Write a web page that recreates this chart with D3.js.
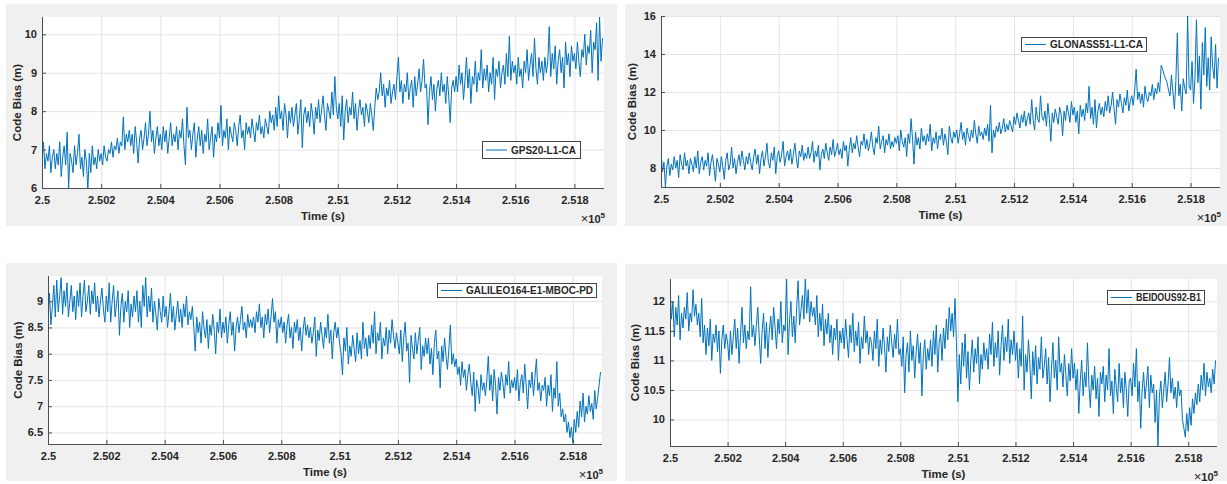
<!DOCTYPE html>
<html>
<head>
<meta charset="utf-8">
<script src="https://cdn.jsdelivr.net/npm/d3@7"></script>
<style>
body { margin: 0; background: #fff; }
text { font-family: "Liberation Sans", Arial, sans-serif; font-weight: bold; fill: #262626; }
</style>
</head>
<body>
<script>
// time axis: one reading every 5 s starting at 250000 s
var t0 = 250000, dt = 5;
var xTickValues = [250000, 250200, 250400, 250600, 250800, 251000, 251200, 251400, 251600, 251800];
var xTickLabels = ["2.5", "2.502", "2.504", "2.506", "2.508", "2.51", "2.512", "2.514", "2.516", "2.518"];

// code bias (m), 20 readings per 100 s
var gps20 = [
  6.6,7.2,6.5,6.9,6.7,7.1,6.4,6.8,7.0,6.5,6.9,6.6,7.2,6.3,6.8,7.1,6.6,7.45,6.0,6.9,
  6.7,6.4,7.1,6.6,6.9,7.4,6.5,6.8,6.3,7.0,6.7,5.95,6.9,6.4,7.1,6.6,6.8,6.5,7.0,6.7,
  6.9,6.6,7.1,6.8,6.7,7.0,6.9,7.2,6.8,7.1,7.0,7.3,6.9,7.2,7.1,7.85,7.0,7.4,7.2,7.5,
  7.1,7.4,6.9,7.6,7.2,6.65,7.3,7.5,7.0,7.3,7.7,7.1,7.4,8.0,7.2,7.5,6.9,7.3,7.6,7.1,
  7.4,7.0,7.6,7.2,7.5,6.9,7.3,7.7,7.1,7.4,7.2,7.6,7.0,7.5,7.3,7.8,7.1,6.6,8.1,7.3,
  7.5,7.0,7.4,7.7,6.8,7.3,7.6,7.1,7.5,6.9,7.4,7.2,7.8,7.0,7.3,7.6,6.8,7.4,7.2,7.7,
  7.3,8.15,7.1,7.5,7.3,7.8,7.0,7.6,7.4,7.2,7.7,7.5,7.1,7.6,7.9,7.3,7.5,7.0,7.7,7.4,
  7.6,7.3,7.8,7.5,7.2,7.7,7.5,7.9,7.4,7.6,7.3,7.8,7.6,7.4,8.0,7.7,7.9,7.5,8.1,7.6,
  8.4,7.8,8.0,7.5,8.2,7.9,7.3,8.0,7.7,8.1,7.6,7.9,8.2,7.4,7.8,8.3,7.05,7.9,8.1,7.7,
  8.0,7.6,8.2,7.9,7.4,8.1,7.8,8.3,7.7,8.0,8.4,7.9,7.5,8.2,8.0,7.8,8.5,7.9,8.9,8.1,
  7.8,8.2,7.6,8.4,7.25,8.0,8.3,7.7,8.1,7.9,8.5,7.8,8.2,7.5,8.0,8.3,7.9,8.1,7.6,8.2,
  8.0,7.7,8.2,7.9,7.5,8.1,8.6,8.3,8.5,9.0,8.4,8.7,8.1,8.6,8.4,8.8,8.2,8.5,8.7,8.3,
  8.9,9.4,8.5,8.8,8.2,8.7,8.5,9.0,8.3,8.6,8.8,8.1,8.9,8.4,8.7,9.1,8.5,8.8,9.35,8.6,
  8.7,7.65,8.5,8.9,8.3,8.7,8.0,8.6,8.8,8.4,9.0,8.5,8.7,8.2,8.9,8.4,7.7,8.6,8.8,8.5,
  8.9,8.5,9.2,8.7,9.0,8.3,8.8,9.4,8.6,9.1,8.2,8.9,8.7,9.3,8.5,9.0,8.8,9.6,8.6,9.1,
  8.8,9.2,8.5,9.0,8.7,9.4,8.3,9.1,8.9,9.3,8.6,9.0,9.2,8.7,9.5,8.9,9.95,8.8,9.3,9.0,
  9.2,8.7,9.4,8.9,9.1,8.6,9.3,9.0,9.6,8.8,9.2,9.5,8.9,9.9,9.1,8.7,9.4,9.0,9.3,8.8,
  9.4,9.0,9.3,10.2,8.9,9.5,9.1,9.7,8.7,9.3,9.6,9.0,9.4,8.6,9.8,9.2,9.5,8.9,9.7,9.3,
  9.5,9.1,9.8,9.3,8.9,9.6,9.4,10.0,9.2,9.7,9.5,10.1,9.0,9.8,9.6,10.3,8.8,10.45,9.3,9.9
];

var glonass51 = [
  8.9,7.8,8.3,7.0,8.1,8.5,7.6,8.2,7.9,8.6,8.0,8.4,7.5,8.7,8.2,7.9,8.8,8.1,8.4,7.7,
  8.5,8.2,7.8,8.6,8.0,8.9,7.7,8.3,8.6,7.9,8.4,8.1,8.8,7.6,8.3,8.7,8.0,7.3,8.5,8.2,
  7.8,8.6,8.1,7.4,8.4,8.8,7.9,8.2,9.1,8.0,8.5,7.7,8.3,8.7,8.1,8.9,8.4,7.9,8.6,8.2,
  8.8,8.3,7.9,8.6,9.0,8.2,8.7,7.7,8.5,8.9,8.1,8.6,9.3,8.3,8.0,8.8,8.4,9.1,7.7,8.6,
  8.9,8.3,8.7,9.4,8.1,8.6,8.9,8.4,9.0,8.2,8.7,9.3,8.5,8.0,8.9,8.6,9.2,8.4,8.8,8.5,
  9.1,8.5,8.8,9.4,8.3,8.9,8.6,9.2,7.9,8.7,9.0,8.5,9.3,8.8,8.4,9.1,8.7,9.5,8.6,8.9,
  9.3,8.7,9.0,8.5,9.4,8.9,9.2,8.1,9.0,9.6,8.8,9.3,9.0,9.7,9.1,8.6,9.4,9.2,9.8,9.0,
  9.5,8.9,9.3,9.9,9.1,8.7,9.6,9.3,10.2,9.0,9.4,9.7,8.8,9.5,9.2,9.8,9.0,9.4,9.1,9.6,
  9.3,9.7,8.9,10.0,9.4,9.1,9.6,8.6,9.8,9.3,10.6,9.5,8.2,9.9,9.2,9.6,9.0,10.1,9.4,9.7,
  9.2,9.8,9.4,10.3,8.9,9.6,9.3,9.9,9.0,9.7,9.5,10.1,9.2,9.8,9.4,8.7,10.2,9.6,9.3,9.9,
  9.6,10.0,9.3,9.8,10.4,9.5,9.9,9.2,10.1,9.7,9.4,10.0,9.6,10.5,9.8,9.3,10.2,9.7,9.9,9.5,
  10.1,9.7,10.3,9.4,11.3,8.8,10.0,9.6,10.2,9.9,10.4,9.8,10.1,10.6,9.9,10.3,10.0,10.5,10.2,9.9,
  10.7,10.3,10.9,10.5,10.1,10.8,10.4,11.0,10.2,10.6,10.9,10.3,11.6,10.5,10.0,11.2,10.6,10.4,11.8,10.7,
  10.5,11.0,10.2,11.4,10.6,9.4,10.9,10.4,11.1,10.7,10.3,11.2,10.8,9.7,11.0,10.5,11.3,10.9,10.4,11.5,
  10.8,11.2,10.4,11.0,9.8,11.3,10.7,11.1,10.5,11.4,10.9,12.3,10.6,11.2,10.3,11.6,10.1,11.0,11.4,10.8,
  11.2,10.7,11.5,11.0,11.8,10.9,11.3,12.0,11.1,10.3,11.6,11.2,11.9,11.4,10.9,11.7,11.3,12.1,11.0,11.5,
  11.8,11.3,12.1,13.2,11.6,12.0,11.4,11.9,11.2,12.3,11.7,11.5,12.0,11.8,12.4,11.6,12.2,11.9,12.5,12.0,
  13.4,13.2,12.9,12.7,12.5,12.1,11.8,12.9,12.0,11.1,12.6,15.1,11.8,12.4,11.0,12.7,12.2,11.9,16.0,12.3,
  12.1,13.6,11.4,12.8,15.8,12.5,13.9,11.1,14.6,12.9,15.4,12.3,13.8,12.1,14.9,13.3,12.7,14.5,12.2,13.8
];

var galileo164 = [
  8.6,9.15,8.55,8.9,9.3,8.7,9.4,8.8,9.1,9.45,8.75,9.2,8.9,9.35,8.7,9.0,9.3,8.8,9.1,8.65,
  9.2,8.9,9.35,8.7,9.1,9.4,8.8,9.0,9.3,8.75,9.2,8.95,9.35,8.8,9.1,8.7,9.0,9.25,8.85,8.6,
  9.1,8.8,9.35,8.6,9.0,9.3,8.7,8.95,9.2,8.35,8.9,9.15,8.6,9.0,8.8,9.2,8.5,8.95,8.7,9.1,
  8.8,9.2,8.6,9.0,8.5,9.3,8.9,9.45,8.7,9.1,8.8,9.25,8.6,9.0,8.75,8.45,9.05,8.8,8.6,9.1,
  8.7,8.9,8.5,8.8,9.15,8.6,8.9,8.45,8.75,9.0,8.6,8.85,8.5,8.95,8.7,9.1,8.55,8.8,8.65,8.9,
  8.5,8.05,8.7,8.4,8.6,8.2,8.8,8.5,8.3,8.65,8.1,8.55,8.35,8.75,8.45,8.0,8.6,8.4,8.85,8.3,
  8.6,8.4,8.7,8.2,8.55,8.8,8.35,8.6,8.05,8.5,8.7,8.4,8.65,8.9,8.45,8.6,8.3,8.75,8.5,8.65,
  8.5,8.7,8.4,8.8,8.6,8.95,8.5,8.7,8.3,8.75,8.55,8.85,8.4,8.7,9.05,8.6,8.8,8.2,8.65,8.5,
  8.7,8.4,8.6,8.2,8.55,8.75,8.3,8.5,8.1,8.6,8.4,8.65,8.25,8.5,8.05,8.45,8.7,8.35,8.55,8.3,
  8.5,8.2,8.4,8.7,7.95,8.45,8.25,8.6,8.35,8.1,8.5,8.3,8.75,8.2,8.45,7.9,8.4,8.6,8.3,8.5,
  8.2,8.0,7.6,8.3,8.05,8.5,7.8,8.15,7.95,8.35,8.1,7.85,8.4,8.0,8.25,7.9,8.6,8.1,8.3,7.95,
  8.35,8.1,8.55,8.2,8.8,8.0,8.4,8.25,8.6,7.9,8.3,8.15,8.5,8.0,8.45,8.2,8.65,8.35,8.1,8.4,
  8.2,8.0,8.45,7.85,8.3,8.6,8.05,8.2,7.45,8.35,8.1,7.9,8.4,8.0,8.25,8.5,7.7,8.15,7.95,8.3,
  8.0,8.3,7.8,8.1,7.6,8.2,8.45,7.9,8.05,7.35,8.15,7.85,8.3,7.95,7.7,8.1,8.55,7.8,8.0,7.75,
  7.9,7.6,7.75,7.4,7.85,7.55,7.7,7.3,7.6,7.8,7.45,7.2,7.65,6.9,7.5,7.35,7.05,7.6,7.3,7.45,
  7.2,7.5,7.95,7.3,7.6,7.1,7.7,7.4,6.85,7.55,7.3,7.65,7.45,7.15,7.6,7.4,7.85,7.25,7.5,7.35,
  7.55,7.3,7.7,7.1,7.45,7.6,7.25,7.8,7.4,6.95,7.5,7.35,7.65,7.2,7.55,7.9,7.3,7.45,7.1,7.4,
  7.3,7.55,7.0,7.4,7.2,7.6,6.9,7.35,7.15,7.85,7.0,7.25,6.8,6.95,6.7,6.85,6.5,6.7,6.4,6.6,
  6.3,6.75,6.5,6.9,6.6,7.1,6.8,7.25,6.7,7.0,6.85,7.2,6.9,7.05,6.75,7.3,6.95,7.15,7.4,7.65
];

var beidou92 = [
  12.3,11.7,12.0,11.4,11.9,11.6,12.1,11.35,11.8,11.55,11.9,11.7,12.15,11.5,11.8,11.65,12.2,11.75,11.95,11.6,
  11.8,11.4,12.05,11.3,11.6,11.1,11.55,11.25,11.7,11.0,11.45,11.3,11.6,11.15,11.5,10.78,11.35,11.6,11.2,11.45,
  11.3,11.0,11.5,11.1,11.4,11.7,11.2,11.55,10.95,11.45,11.9,11.3,11.6,11.2,11.5,11.35,12.25,11.4,11.6,11.25,
  11.6,11.9,11.4,10.95,11.5,11.8,11.2,11.65,11.05,11.5,11.75,11.35,11.9,11.55,11.2,11.7,11.45,12.0,11.3,11.6,
  11.5,12.38,11.1,11.65,12.0,11.4,11.75,11.3,11.9,12.35,11.6,11.85,12.1,11.7,12.4,11.8,12.2,11.65,12.0,11.75,
  11.9,11.6,12.1,11.4,11.8,11.5,11.95,11.25,11.7,11.45,11.8,11.3,11.6,11.1,11.55,11.35,11.7,11.0,11.5,11.3,
  11.55,11.2,11.7,11.35,11.05,11.6,11.3,11.8,11.15,11.5,11.25,11.65,10.95,11.4,11.2,11.75,11.3,11.5,11.1,11.4,
  11.3,11.0,11.5,11.2,11.7,10.9,11.35,11.1,11.55,11.25,10.8,11.4,11.15,11.6,11.3,11.05,11.45,11.2,11.7,11.1,
  11.2,10.9,11.4,10.45,11.1,11.3,10.8,11.5,11.0,11.25,10.7,11.15,11.45,10.95,11.3,10.4,11.1,11.35,10.85,11.2,
  11.0,11.35,10.9,11.5,11.1,11.6,10.8,11.3,11.45,11.0,11.55,11.2,11.7,11.35,11.9,11.5,11.8,11.4,12.05,11.3,
  10.3,11.1,10.6,11.3,10.9,11.45,10.7,11.15,10.5,11.0,11.35,10.8,11.2,10.95,11.4,10.6,11.1,10.85,11.3,11.0,
  11.2,10.85,11.45,11.1,11.65,10.9,11.3,11.05,11.5,10.75,11.25,11.6,11.0,11.4,11.15,11.7,10.95,11.35,11.1,11.5,
  11.0,11.3,10.7,11.2,10.9,11.75,10.5,11.1,10.8,11.35,10.95,10.35,11.15,10.75,11.25,10.6,11.05,10.85,11.4,10.7,
  10.9,11.2,10.6,11.05,10.3,10.85,11.3,10.7,11.0,10.5,11.4,10.8,10.95,10.55,11.1,10.75,10.4,10.95,10.65,11.2,
  10.7,10.95,10.5,10.85,10.1,10.65,11.0,10.4,10.8,10.55,11.3,10.6,10.2,10.75,10.5,10.9,10.35,10.7,10.05,10.8,
  10.6,10.9,10.3,10.75,10.5,11.2,10.4,10.65,10.1,10.85,10.55,10.3,10.95,10.45,10.7,10.2,10.8,10.5,10.05,10.65,
  10.7,10.4,10.95,10.55,11.2,10.3,10.65,9.85,10.5,10.8,10.35,10.6,10.9,10.2,10.75,10.45,10.6,9.95,10.5,9.55,
  10.4,10.65,10.2,10.5,10.8,10.3,10.6,11.05,10.45,10.7,10.35,10.55,10.2,10.65,10.4,10.5,10.0,9.85,9.7,10.1,
  9.8,10.2,9.9,10.35,10.1,10.45,10.25,10.6,10.3,10.75,10.5,10.95,10.4,10.8,10.55,10.7,10.45,10.85,10.6,11.0
];

var seriesNames = ["GPS20-L1-CA", "GLONASS51-L1-CA", "GALILEO164-E1-MBOC-PD", "BEIDOUS92-B1"];

// panel layout (figure box, axes box, y range, legend box)
var panels = [
  { name: seriesNames[0], values: gps20, bg: [6, 4, 611, 222], box: [42, 17, 604, 188],
    yDomain: [6, 10.45], yTicks: [6, 7, 8, 9, 10], ylabelX: 17, legend: [482, 141, 98, 17] },
  { name: seriesNames[1], values: glonass51, bg: [625, 4, 602, 222], box: [661, 16, 1220, 187],
    yDomain: [7, 16], yTicks: [8, 10, 12, 14, 16], ylabelX: 632, legend: [1021, 37, 125, 14] },
  { name: seriesNames[2], values: galileo164, bg: [6, 263, 611, 218], box: [48, 276, 602, 444],
    yDomain: [6.28, 9.48], yTicks: [6.5, 7, 7.5, 8, 8.5, 9], ylabelX: 18, legend: [437, 283, 159, 14] },
  { name: seriesNames[3], values: beidou92, bg: [625, 264, 602, 217], box: [670, 279, 1217, 446],
    yDomain: [9.55, 12.38], yTicks: [10, 10.5, 11, 11.5, 12], ylabelX: 635, legend: [1107, 290, 97, 14] }
];

var svg = d3.select("body").append("svg")
    .attr("width", 1227)
    .attr("height", 484);

panels.forEach(function(p, i) {
  var left = p.box[0], top = p.box[1], right = p.box[2], bottom = p.box[3];
  var width = right - left, height = bottom - top;

  // figure background
  svg.append("rect")
      .attr("x", p.bg[0]).attr("y", p.bg[1])
      .attr("width", p.bg[2]).attr("height", p.bg[3])
      .attr("fill", "#f0f0f0");

  var g = svg.append("g")
      .attr("transform", "translate(" + left + "," + top + ")");

  g.append("rect")
      .attr("width", width).attr("height", height)
      .attr("fill", "#fff");

  var x = d3.scaleLinear().domain([250000, 251900]).range([0, width]);
  var y = d3.scaleLinear().domain(p.yDomain).range([height, 0]);

  // grid lines
  g.append("g")
      .attr("class", "grid")
      .call(d3.axisBottom(x).tickValues(xTickValues).tickSize(height).tickFormat(""));
  g.append("g")
      .attr("class", "grid")
      .call(d3.axisLeft(y).tickValues(p.yTicks).tickSize(-width).tickFormat(""));
  g.selectAll(".grid .domain").remove();
  g.selectAll(".grid line").attr("stroke", "#e3e3e3").attr("stroke-width", 1);

  // the series
  svg.append("clipPath").attr("id", "clip" + i)
    .append("rect").attr("width", width).attr("height", height);

  var line = d3.line()
      .x(function(d, k) { return x(t0 + k * dt); })
      .y(function(d) { return y(d); });

  g.append("path")
      .datum(p.values)
      .attr("clip-path", "url(#clip" + i + ")")
      .attr("fill", "none")
      .attr("stroke", "#0072bd")
      .attr("stroke-width", 1)
      .attr("stroke-linejoin", "round")
      .attr("d", line);

  // axes
  var xAxis = g.append("g")
      .attr("transform", "translate(0," + height + ")")
      .call(d3.axisBottom(x).tickValues(xTickValues)
        .tickFormat(function(d, k) { return xTickLabels[k]; })
        .tickSize(-4).tickPadding(8));
  var yAxis = g.append("g")
      .call(d3.axisLeft(y).tickValues(p.yTicks).tickFormat(d3.format("")).tickSize(-4).tickPadding(5));
  [xAxis, yAxis].forEach(function(a) {
    a.select(".domain").attr("stroke", "#4d4d4d").attr("stroke-width", 1);
    a.selectAll(".tick line").attr("stroke", "#4d4d4d");
    a.selectAll(".tick text").style("font-size", "11px").attr("fill", "#262626");
  });
  // only the left and bottom edges: trim the outer ticks of the domain path
  xAxis.select(".domain").attr("d", "M0,0.5H" + width);
  yAxis.select(".domain").attr("d", "M0.5,0V" + height);

  // axis titles
  g.append("text")
      .attr("x", width / 2)
      .attr("y", height + 32)
      .attr("text-anchor", "middle")
      .style("font-size", "11.5px")
      .text("Time (s)");

  svg.append("text")
      .attr("transform", "translate(" + p.ylabelX + "," + (top + height / 2) + ") rotate(-90)")
      .attr("text-anchor", "middle")
      .attr("dominant-baseline", "central")
      .style("font-size", "11.5px")
      .text("Code Bias (m)");

  // x10^5 multiplier
  var mult = g.append("text")
      .attr("x", width + 1)
      .attr("y", height + 35)
      .attr("text-anchor", "end")
      .style("font-size", "11px");
  mult.append("tspan").style("font-weight", "normal").style("font-size", "13px").text("\u00d7");
  mult.append("tspan").text("10");
  mult.append("tspan").attr("dy", -5).style("font-size", "8px").text("5");

  // legend
  var lg = svg.append("g")
      .attr("transform", "translate(" + p.legend[0] + "," + p.legend[1] + ")");
  lg.append("rect")
      .attr("x", 0.5).attr("y", 0.5)
      .attr("width", p.legend[2]).attr("height", p.legend[3])
      .attr("fill", "#fff")
      .attr("stroke", "#444")
      .attr("stroke-width", 1);
  lg.append("line")
      .attr("x1", 4).attr("x2", 25)
      .attr("y1", p.legend[3] / 2 + 0.5).attr("y2", p.legend[3] / 2 + 0.5)
      .attr("stroke", "#0072bd")
      .attr("stroke-width", 1);
  var lt = lg.append("text")
      .attr("x", 29)
      .attr("y", p.legend[3] / 2 + 0.5)
      .attr("dominant-baseline", "central")
      .style("font-size", "10px")
      .text(p.name);
  // keep the label inside its box
  var room = p.legend[2] - 32;
  if (lt.node().getComputedTextLength() > room) {
    lt.attr("textLength", room).attr("lengthAdjust", "spacingAndGlyphs");
  }
});
</script>
</body>
</html>
